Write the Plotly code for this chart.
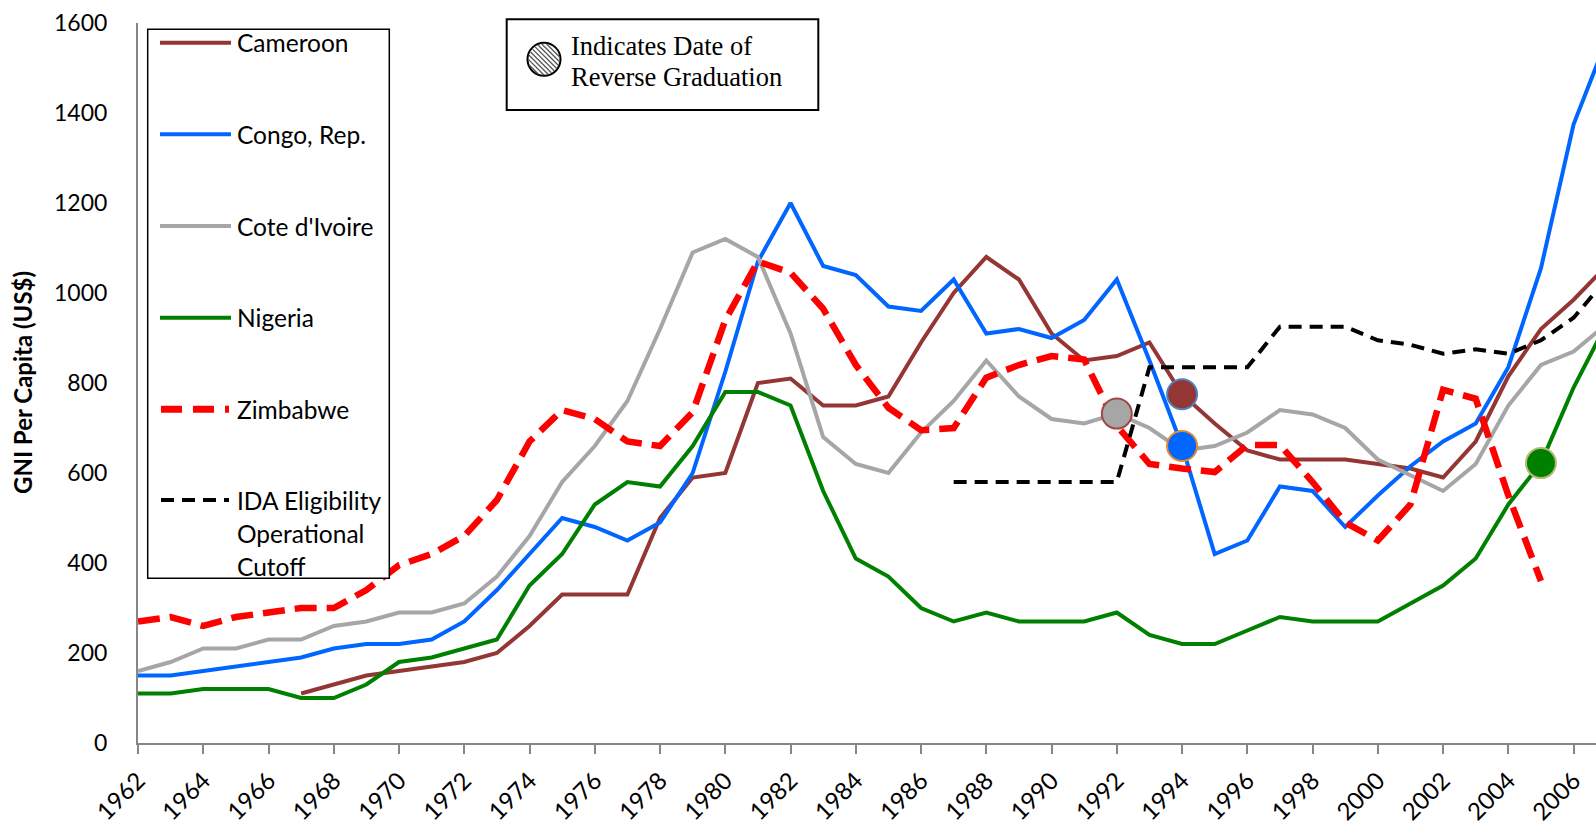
import math
import plotly.graph_objects as go

# ---------------- data ----------------
years = list(range(1962, 2008))

cameroon = [None, None, None, None, None, 110, 130, 150, 160, 170,
            180, 200, 260, 330, 330, 330, 500, 590, 600, 800,
            810, 750, 750, 770, 890, 1000, 1080, 1030, 910, 850,
            860, 890, 775, 710, 650, 630, 630, 630, 620, 610,
            590, 670, 815, 920, 985, 1060]

congo = [150, 150, 160, 170, 180, 190, 210, 220, 220, 230,
         270, 340, 420, 500, 480, 450, 490, 600, 825, 1070,
         1200, 1060, 1040, 970, 960, 1030, 910, 920, 900, 940,
         1030, 850, 660, 420, 450, 570, 560, 480, 550, 615,
         670, 710, 835, 1055, 1375, 1560]

cote_divoire = [160, 180, 210, 210, 230, 230, 260, 270, 290, 290,
                310, 370, 460, 580, 660, 760, 920, 1090, 1120, 1080,
                910, 680, 620, 600, 690, 760, 850, 770, 720, 710,
                732, 700, 650, 660, 690, 740, 730, 700, 630, 595,
                560, 620, 750, 840, 870, 930]

nigeria = [110, 110, 120, 120, 120, 100, 100, 130, 180, 190,
           210, 230, 350, 420, 530, 580, 570, 660, 780, 780,
           750, 560, 410, 370, 300, 270, 290, 270, 270, 270,
           290, 240, 220, 220, 250, 280, 270, 270, 270, 310,
           350, 410, 530, 622, 790, 930]

zimbabwe = [270, 280, 260, 280, 290, 300, 300, 340, 395, 420,
            460, 540, 670, 740, 720, 670, 660, 735, 940, 1070,
            1045, 965, 840, 745, 695, 700, 812, 840, 860, 852,
            705, 620, 610, 602, 662, 662, 580, 490, 450, 530,
            785, 765, 550, 360, None, None]

ida_cutoff = [None] * 25 + [580, 580, 580, 580, 580, 580,
                            835, 835, 835, 835, 925, 925, 925, 895, 885,
                            865, 875, 865, 895, 945, 1030]

series_names = ["Cameroon", "Congo, Rep.", "Cote d'Ivoire", "Nigeria", "Zimbabwe"]
series_values = [cameroon, congo, cote_divoire, nigeria, zimbabwe]
series_colors = ["#943634", "#0066FF", "#A6A6A6", "#008000", "#FF0000"]
ida_name = "IDA Eligibility Operational Cutoff"

# reverse graduation points: (country, year)
grad_country = ["Cote d'Ivoire", "Cameroon", "Congo, Rep.", "Nigeria"]
grad_year = [1992, 1994, 1994, 2005]
grad_fill = ["#A6A6A6", "#943634", "#0066FF", "#008000"]
grad_border = ["#A04848", "#4F81BD", "#E38A35", "#B8B878"]

x_tick_vals = list(range(1962, 2007, 2))
x_tick_text = [str(v) for v in x_tick_vals]
y_tick_vals = list(range(0, 1601, 200))

# ---------------- layout geometry ----------------
FW, FH = 1596, 825
L, T, R, B = 138, 23, 0, 82
W = FW - L - R
H = FH - T - B
PX_PER_YEAR = 32.627
x_end = 1962 + W / PX_PER_YEAR


def px(x):
    return (x - L) / W


def py(y):
    return (T + H - y) / H


SANS = "Lato, 'Open Sans', sans-serif"
SERIF = "'Liberation Serif', 'Times New Roman', serif"

fig = go.Figure()

for name, vals, col in zip(series_names, series_values, series_colors):
    if name == "Zimbabwe":
        line = dict(color=col, width=6.5, dash="22px,10px")
    else:
        line = dict(color=col, width=4)
    fig.add_trace(go.Scatter(x=years, y=vals, mode="lines", name=name,
                             line=line, connectgaps=False, showlegend=False,
                             hoverinfo="x+y+name"))

fig.add_trace(go.Scatter(x=years, y=ida_cutoff, mode="lines", name=ida_name,
                         line=dict(color="black", width=4, dash="13px,8px"),
                         showlegend=False))

lookup = dict(zip(series_names, series_values))
gx = grad_year
gy = [lookup[c][years.index(yr)] for c, yr in zip(grad_country, grad_year)]
fig.add_trace(go.Scatter(x=gx, y=gy, mode="markers", showlegend=False,
                         text=grad_country,
                         marker=dict(size=30, color=grad_fill,
                                     line=dict(color=grad_border, width=2)),
                         hoverinfo="text+x+y"))

shapes = []
annotations = []

# ----- main legend box -----
shapes.append(dict(type="rect", xref="paper", yref="paper",
                   x0=px(147.7), x1=px(389.3), y0=py(29.3), y1=py(578.3),
                   line=dict(color="black", width=1.5), fillcolor="white",
                   layer="above"))
leg_y = [42.7, 134.3, 226.0, 317.7, 409.3]
for name, col, yy in zip(series_names, series_colors, leg_y):
    if name == "Zimbabwe":
        shapes.append(dict(type="line", xref="paper", yref="paper",
                           x0=px(161), x1=px(229), y0=py(yy), y1=py(yy),
                           line=dict(color=col, width=7, dash="21px,11px"),
                           layer="above"))
    else:
        shapes.append(dict(type="line", xref="paper", yref="paper",
                           x0=px(160), x1=px(231), y0=py(yy), y1=py(yy),
                           line=dict(color=col, width=4), layer="above"))
    annotations.append(dict(xref="paper", yref="paper", x=px(235), y=py(yy),
                            xanchor="left", yanchor="middle", showarrow=False,
                            text=name, font=dict(family=SANS, size=24.5, color="black")))
shapes.append(dict(type="line", xref="paper", yref="paper",
                   x0=px(161), x1=px(229), y0=py(500), y1=py(500),
                   line=dict(color="black", width=4, dash="13px,8px"), layer="above"))
for txt, yy in zip(["IDA Eligibility", "Operational", "Cutoff"], [500, 533, 566]):
    annotations.append(dict(xref="paper", yref="paper", x=px(235), y=py(yy),
                            xanchor="left", yanchor="middle", showarrow=False,
                            text=txt, font=dict(family=SANS, size=24.5, color="black")))

# ----- reverse graduation legend box -----
shapes.append(dict(type="rect", xref="paper", yref="paper",
                   x0=px(506.7), x1=px(818.3), y0=py(19.3), y1=py(110),
                   line=dict(color="black", width=2), fillcolor="white",
                   layer="above"))
cx, cy, r = 544.0, 59.3, 16.5
shapes.append(dict(type="circle", xref="paper", yref="paper",
                   x0=px(cx - r), x1=px(cx + r), y0=py(cy + r), y1=py(cy - r),
                   line=dict(color="black", width=2), fillcolor="white",
                   layer="above"))
d = -r + 2.0
while d < r - 1.0:
    h = math.sqrt(max(r * r - d * d, 0)) - 1.2
    nx, ny = d / math.sqrt(2), -d / math.sqrt(2)
    ux, uy = 1 / math.sqrt(2), 1 / math.sqrt(2)
    x0, y0 = cx + nx - h * ux, cy + ny - h * uy
    x1, y1 = cx + nx + h * ux, cy + ny + h * uy
    shapes.append(dict(type="line", xref="paper", yref="paper",
                       x0=px(x0), y0=py(y0), x1=px(x1), y1=py(y1),
                       line=dict(color="#555555", width=1.3), layer="above"))
    d += 3.4
annotations.append(dict(xref="paper", yref="paper", x=px(569), y=py(46),
                        xanchor="left", yanchor="middle", showarrow=False,
                        text="Indicates Date of",
                        font=dict(family=SERIF, size=26.5, color="black")))
annotations.append(dict(xref="paper", yref="paper", x=px(569), y=py(77),
                        xanchor="left", yanchor="middle", showarrow=False,
                        text="Reverse Graduation",
                        font=dict(family=SERIF, size=26.5, color="black")))

# ----- y-axis title -----
annotations.append(dict(xref="paper", yref="paper", x=px(22), y=py(383),
                        xanchor="center", yanchor="middle", showarrow=False,
                        textangle=-90, text="<b>GNI Per Capita (US$)</b>",
                        font=dict(family=SANS, size=24, color="black")))

fig.update_layout(
    width=FW, height=FH,
    margin=dict(l=L, r=R, t=T, b=B, pad=0, autoexpand=False),
    paper_bgcolor="white", plot_bgcolor="white",
    showlegend=False,
    shapes=shapes, annotations=annotations,
    xaxis=dict(range=[1962, x_end], tickmode="array", tickvals=x_tick_vals,
               ticktext=x_tick_text, tickangle=-45, showgrid=False,
               zeroline=False, showline=True, linecolor="#868686", linewidth=2,
               ticks="outside", ticklen=9, tickwidth=2, tickcolor="#868686",
               ticklabelstandoff=3, automargin=False,
               tickfont=dict(family=SANS, size=24, color="black")),
    yaxis=dict(range=[0, 1600], tickmode="array", tickvals=y_tick_vals,
               showgrid=False, zeroline=False, showline=True,
               linecolor="#868686", linewidth=2, ticks="",
               ticklabelstandoff=24, automargin=False,
               tickfont=dict(family=SANS, size=23, color="black")),
)

fig.write_html("out.html",
               config={"displayModeBar": False},
               post_script="document.body.style.margin='0';"
                           "document.body.style.overflow='hidden';")
